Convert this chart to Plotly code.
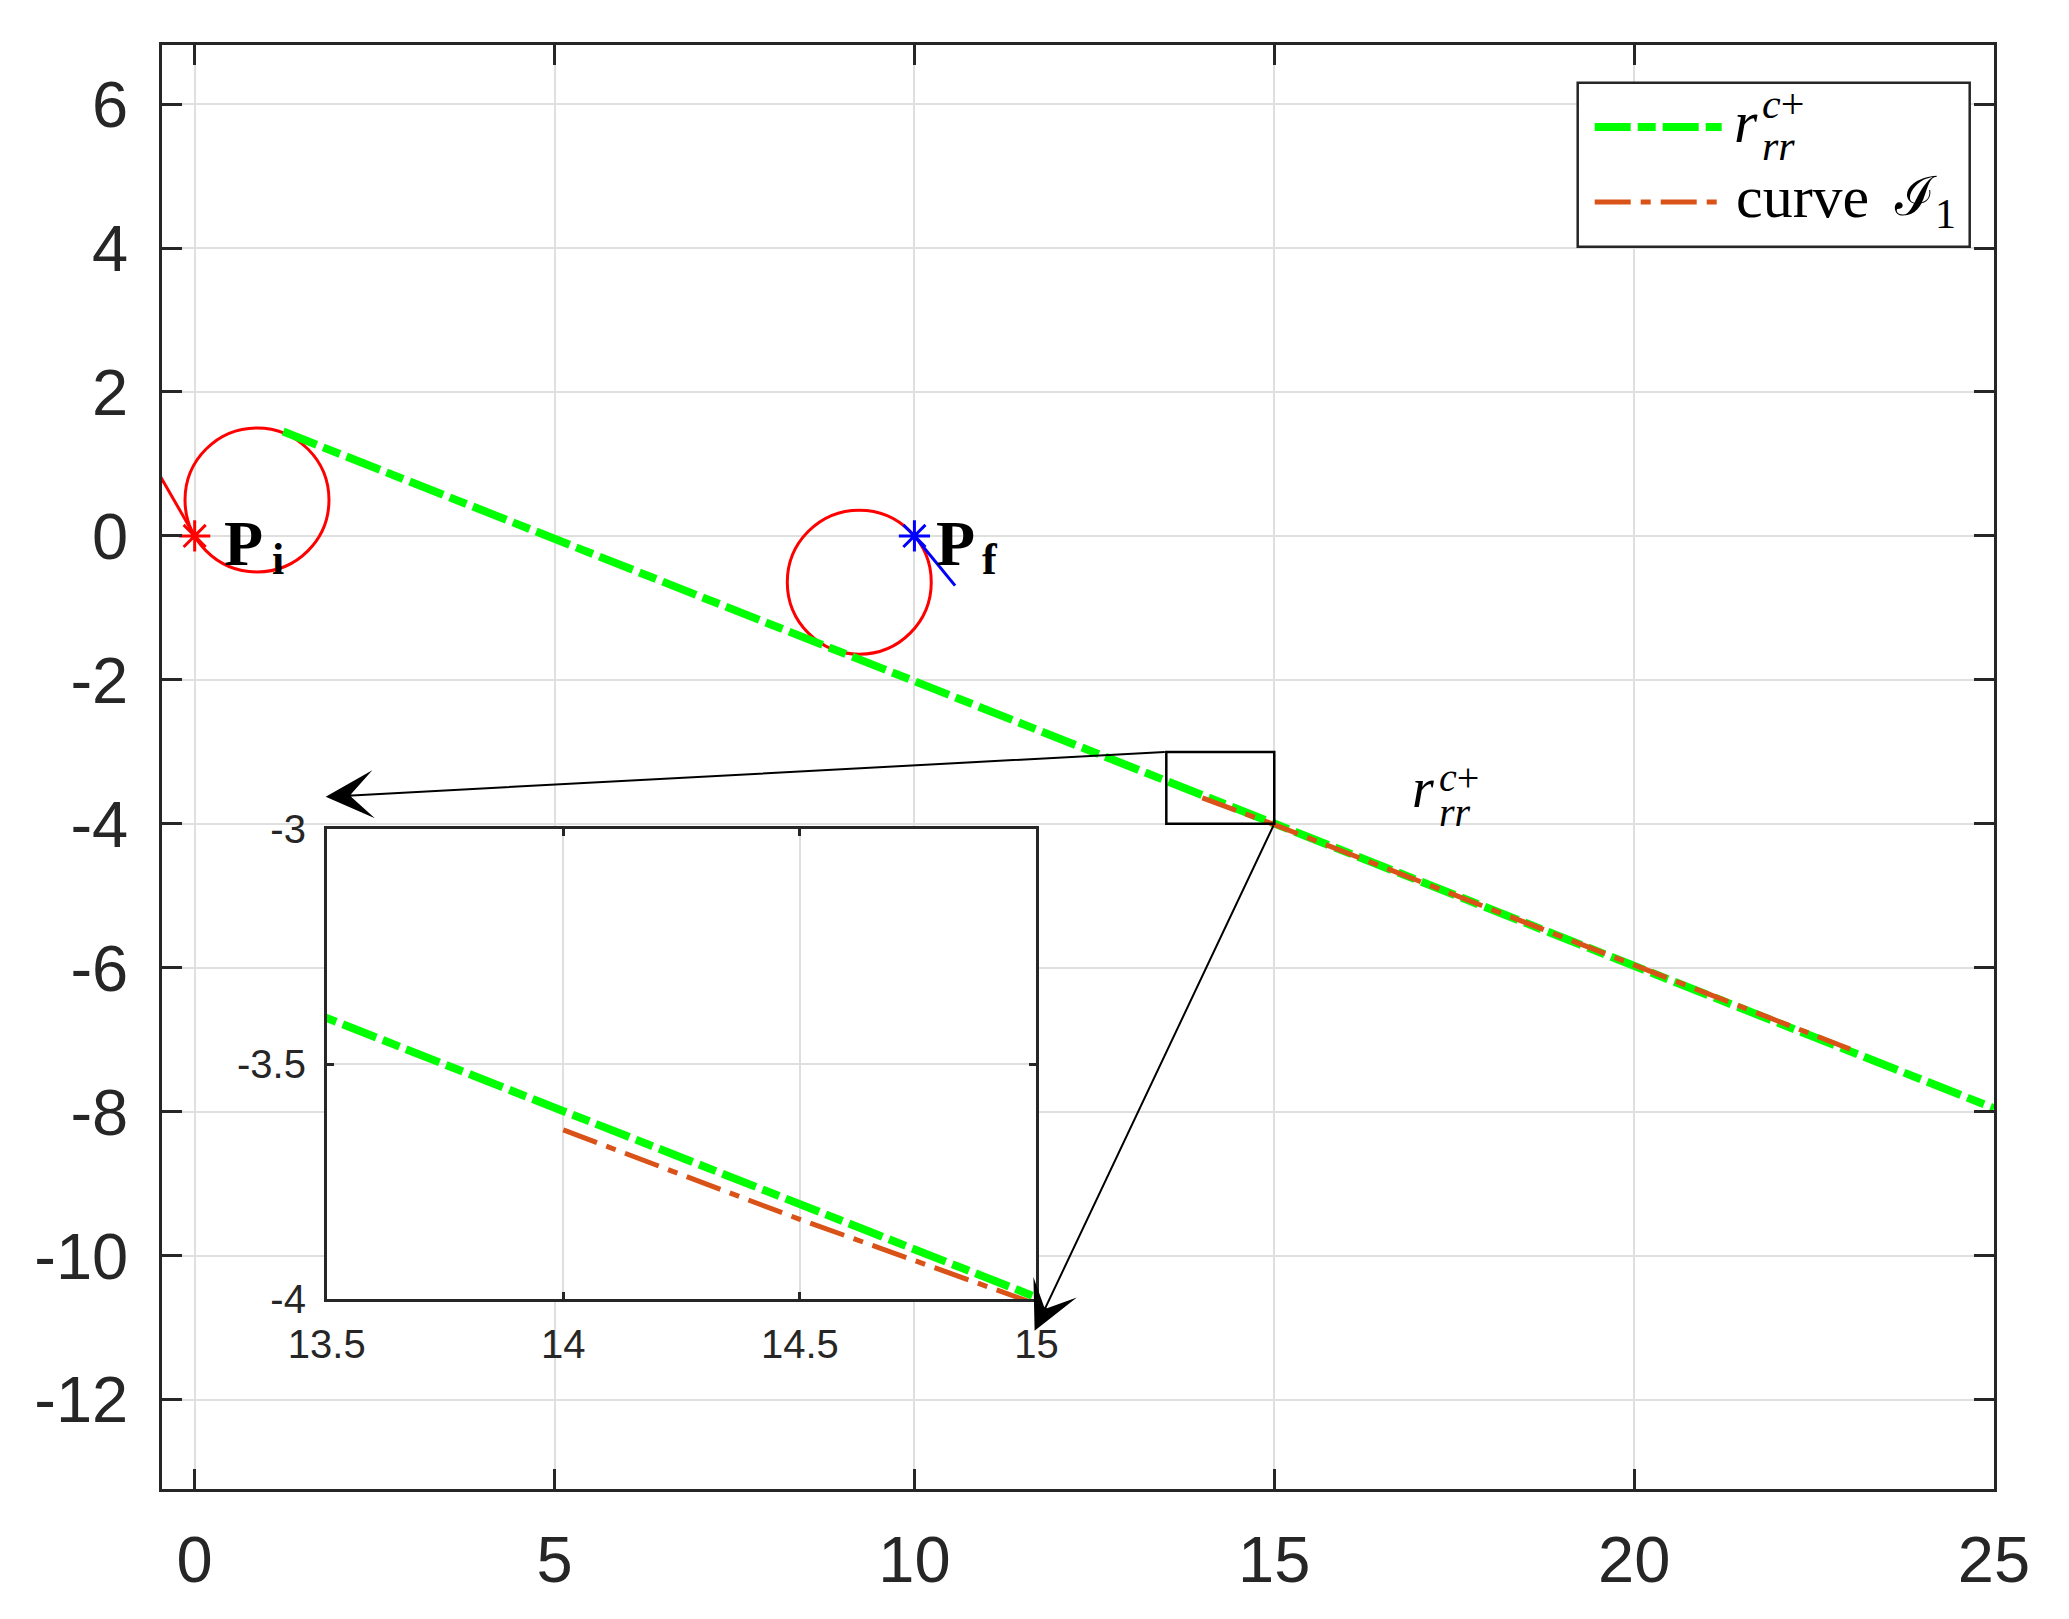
import plotly.graph_objects as go

# ---------------- data ----------------
x_ticks = [0, 5, 10, 15, 20, 25]
x_tick_labels = ["0", "5", "10", "15", "20", "25"]
y_ticks = [6, 4, 2, 0, -2, -4, -6, -8, -10, -12]
y_tick_labels = ["6", "4", "2", "0", "-2", "-4", "-6", "-8", "-10", "-12"]

inset_x_ticks = [13.5, 14, 14.5, 15]
inset_x_tick_labels = ["13.5", "14", "14.5", "15"]
inset_y_ticks = [-4, -3.5, -3]
inset_y_tick_labels = ["-4", "-3.5", "-3"]

# tangent segment r_rr^{c+}
rrc_x = [1.23, 25.0]
rrc_y = [1.45, -7.95]

# curve I_1
curve_x = [14.0, 14.5, 15.0, 17.0, 20.0, 23.0]
curve_y = [-3.64, -3.83, -4.01, -4.79, -5.96, -7.13]

# turning circles (centre, radius)
circle_cx = [0.866, 9.234]
circle_cy = [0.5, -0.643]
circle_r = [1.0, 1.0]

# initial / final poses
pi_x = [0.0]
pi_y = [0.0]
pi_heading_x = [0.0, -0.5]
pi_heading_y = [0.0, 0.866]
pf_x = [10.0]
pf_y = [0.0]
pf_heading_x = [10.0, 10.565]
pf_heading_y = [0.0, -0.69]

# zoom window and where the arrows point
zoom_x = [13.5, 15.0]
zoom_y = [-4.0, -3.0]
arrow_tip_x = [1.82, 11.67]
arrow_tip_y = [-3.625, -11.04]

# ---------------- styles ----------------
GREEN = "#00ff00"
ORANGE = "#d95319"
AX = "#262626"
GRID = "#dfdfdf"
SANS = "Liberation Sans, Arial, sans-serif"
SERIF = "Liberation Serif, Times New Roman, serif"
green_dash = "36px,7px,18px,7px"
orange_dash = "36px,10px,10px,10px"

fig = go.Figure()

# heading lines and markers
fig.add_trace(go.Scatter(x=pi_heading_x, y=pi_heading_y, mode="lines",
                         line=dict(color="red", width=3), showlegend=False))
fig.add_trace(go.Scatter(x=pi_x, y=pi_y, mode="markers",
                         marker=dict(symbol="asterisk-open", size=26, color="red",
                                     line=dict(color="red", width=3)),
                         showlegend=False))
fig.add_trace(go.Scatter(x=pf_heading_x, y=pf_heading_y, mode="lines",
                         line=dict(color="blue", width=3), showlegend=False))
fig.add_trace(go.Scatter(x=pf_x, y=pf_y, mode="markers",
                         marker=dict(symbol="asterisk-open", size=26, color="blue",
                                     line=dict(color="blue", width=3)),
                         showlegend=False))

# main series
fig.add_trace(go.Scatter(x=rrc_x, y=rrc_y, mode="lines", name="r_rr^c+",
                         line=dict(color=GREEN, width=8, dash=green_dash), showlegend=False))
fig.add_trace(go.Scatter(x=curve_x, y=curve_y, mode="lines", name="curve I_1",
                         line=dict(color=ORANGE, width=5, dash=orange_dash), showlegend=False))

# inset copies
fig.add_trace(go.Scatter(x=rrc_x, y=rrc_y, mode="lines", xaxis="x2", yaxis="y2",
                         line=dict(color=GREEN, width=8, dash=green_dash), showlegend=False))
fig.add_trace(go.Scatter(x=curve_x, y=curve_y, mode="lines", xaxis="x2", yaxis="y2",
                         line=dict(color=ORANGE, width=5, dash=orange_dash), showlegend=False))

shapes = []
for cx, cy, r in zip(circle_cx, circle_cy, circle_r):
    shapes.append(dict(type="circle", xref="x", yref="y", x0=cx - r, x1=cx + r,
                       y0=cy - r, y1=cy + r, line=dict(color="red", width=3),
                       layer="between"))
# zoom window
shapes.append(dict(type="rect", xref="x", yref="y", x0=zoom_x[0], x1=zoom_x[1],
                   y0=zoom_y[0], y1=zoom_y[1], line=dict(color="black", width=2.5),
                   layer="above"))
# opaque inset background
shapes.append(dict(type="rect", xref="x2", yref="y2", x0=inset_x_ticks[0], x1=inset_x_ticks[-1],
                   y0=inset_y_ticks[0], y1=inset_y_ticks[-1], fillcolor="white",
                   line=dict(width=0), layer="below"))

# custom legend
px2x = lambda p: (p - 162.3) / 1832.0
px2y = lambda p: (1488.5 - p) / 1443.5
shapes.append(dict(type="rect", xref="paper", yref="paper", x0=px2x(1578), x1=px2x(1970),
                   y0=px2y(246.7), y1=px2y(82.7), fillcolor="white",
                   line=dict(color=AX, width=2.5), layer="above"))
shapes.append(dict(type="line", xref="paper", yref="paper", x0=px2x(1595), x1=px2x(1722),
                   y0=px2y(127), y1=px2y(127), line=dict(color=GREEN, width=8, dash=green_dash),
                   layer="above"))
shapes.append(dict(type="line", xref="paper", yref="paper", x0=px2x(1595), x1=px2x(1718),
                   y0=px2y(202), y1=px2y(202), line=dict(color=ORANGE, width=5, dash=orange_dash),
                   layer="above"))

ann = []
def txt(text, x, y, size, ref="data", family=SERIF):
    d = dict(text=text, x=x, y=y, showarrow=False, xanchor="left", yanchor="middle",
             borderpad=0, font=dict(family=family, size=size, color="black"))
    if ref == "paper":
        d.update(xref="paper", yref="paper")
    else:
        d.update(xref="x", yref="y")
    return d

ann.append(txt("<b>P</b>", 0.40, -0.111, 64))
ann.append(txt("<b>i</b>", 1.06, -0.330, 44))
ann.append(txt("<b>P</b>", 10.28, -0.111, 64))
ann.append(txt("<b>f</b>", 10.93, -0.330, 44))

ann.append(txt("<i>r</i>", 16.90, -3.50, 56))
ann.append(txt("<i>c</i>+", 17.28, -3.35, 40))
ann.append(txt("<i>rr</i>", 17.28, -3.84, 40))

ann.append(txt("<i>r</i>", px2x(1733), px2y(122.1), 60, "paper"))
ann.append(txt("<i>c</i>+", px2x(1761), px2y(104), 42, "paper"))
ann.append(txt("<i>rr</i>", px2x(1761), px2y(146), 42, "paper"))
ann.append(txt("curve", px2x(1735.7), px2y(197.1), 60, "paper"))
ann.append(txt("\u2110", px2x(1893), px2y(197.1), 54, "paper"))
ann.append(txt("1", px2x(1934), px2y(214), 42, "paper"))

# zoom arrows
tails = [(zoom_x[0], zoom_y[1]), (zoom_x[1], zoom_y[0])]
for (tx, ty), hx, hy in zip(tails, arrow_tip_x, arrow_tip_y):
    ann.append(dict(x=hx, y=hy, ax=tx, ay=ty, xref="x", yref="y", axref="x", ayref="y",
                    text="", showarrow=True, arrowhead=3, arrowsize=4, arrowwidth=2,
                    arrowcolor="black", standoff=0))

common = dict(showline=True, linecolor=AX, linewidth=2.5, mirror="ticks", ticks="inside",
              tickcolor=AX, tickwidth=2.5, showgrid=True, gridcolor=GRID, gridwidth=2,
              zeroline=False, automargin=False)

fig.update_layout(
    width=2069, height=1619,
    margin=dict(l=162, r=75, t=45, b=130),
    paper_bgcolor="white", plot_bgcolor="white",
    showlegend=False,
    xaxis=dict(domain=[0, 1], range=[-0.454, 25], tickvals=x_ticks, ticktext=x_tick_labels,
               ticklen=20, ticklabelstandoff=12, anchor="y",
               tickfont=dict(family=SANS, size=65, color=AX), **common),
    yaxis=dict(domain=[0, 1], range=[-13.24, 6.82], tickvals=y_ticks, ticktext=y_tick_labels,
               ticklen=20, ticklabelstandoff=18, anchor="x",
               tickfont=dict(family=SANS, size=65, color=AX), **common),
    xaxis2=dict(domain=[px2x(327), px2x(1036.7)], range=[13.5, 15], tickvals=inset_x_ticks,
                ticktext=inset_x_tick_labels, ticklen=8, ticklabelstandoff=8, anchor="y2",
                tickfont=dict(family=SANS, size=40, color=AX), **common),
    yaxis2=dict(domain=[px2y(1299), px2y(828.3)], range=[-4, -3], tickvals=inset_y_ticks,
                ticktext=inset_y_tick_labels, ticklen=8, ticklabelstandoff=10, anchor="x2",
                tickfont=dict(family=SANS, size=40, color=AX), **common),
    shapes=shapes,
    annotations=ann,
)

fig.write_html("out.html", config={"displayModeBar": False},
               post_script="document.body.style.margin='0';")
